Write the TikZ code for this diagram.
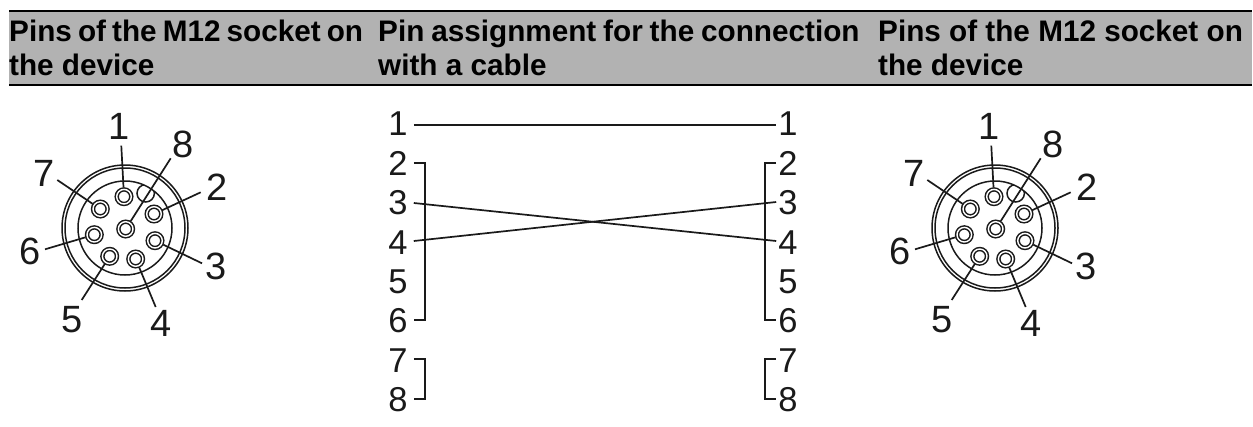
\documentclass[tikz,border=0pt]{standalone}
\usepackage{fontspec}
\setmainfont{Liberation Sans}
\usetikzlibrary{calc}
\definecolor{headgrey}{RGB}{178,178,178}
\definecolor{ink}{RGB}{26,26,26}
\tikzset{
  x=1pt,y=-1pt,
  wire/.style={draw=ink,line width=1.7pt},
  rule/.style={draw=black,line width=2.2pt},
  head/.style={anchor=base west,inner sep=0pt,align=left,font=\fontsize{29.7}{34}\selectfont\bfseries,text=black},
  biglabel/.style={inner sep=0pt,font=\fontsize{38}{38}\selectfont,text=ink},
  midlabel/.style={inner sep=0pt,font=\fontsize{34.5}{34.5}\selectfont,text=ink},
  pinnode/.style={circle,draw=ink,line width=1.5pt,double=white,double distance=1.4pt,minimum size=14.6pt,inner sep=0pt,outer sep=2pt},
  ring/.style={draw=ink,line width=1.5pt},
}
\newcommand{\socket}[2]{%
\begin{scope}[xshift=#1pt,name prefix=#2-]
  \draw[ring] (125,228) circle (63) (125,228) circle (60);
  \draw[ring] (125,228) circle (47);
  \begin{scope}
    \clip (125,228) circle (47);
    \draw[ring] (145.7,193.3) circle (8.7);
  \end{scope}
  \node[pinnode] (p1) at (124,196.7) {};
  \node[pinnode] (p2) at (154,214) {};
  \node[pinnode] (p3) at (155,240.7) {};
  \node[pinnode] (p4) at (135.7,259) {};
  \node[pinnode] (p5) at (109.7,256.3) {};
  \node[pinnode] (p6) at (94.3,234.7) {};
  \node[pinnode] (p7) at (100.3,209) {};
  \node[pinnode] (p8) at (125.7,229) {};
  \node[biglabel] (n1) at (119,126) {1};
  \node[biglabel] (n2) at (217,187) {2};
  \node[biglabel] (n3) at (216,266) {3};
  \node[biglabel] (n4) at (161,323) {4};
  \node[biglabel] (n5) at (72,320) {5};
  \node[biglabel] (n6) at (30,251.5) {6};
  \node[biglabel] (n7) at (44,173) {7};
  \node[biglabel] (n8) at (183,144) {8};
  \coordinate (e1) at (121.3,145.7);
  \coordinate (e2) at (200.7,192.3);
  \coordinate (e3) at (202,263.3);
  \coordinate (e4) at (155.7,307);
  \coordinate (e5) at (81.7,300);
  \coordinate (e6) at (45,249.3);
  \coordinate (e7) at (57.3,180);
  \coordinate (e8) at (170.7,158.3);
  \foreach \i in {1,...,8} \draw[wire] (e\i) -- (p\i);
\end{scope}}
\begin{document}
\begin{tikzpicture}
\useasboundingbox (0,0) rectangle (1253,426);
\fill[headgrey] (9,11) rectangle (1252,85);
\draw[rule] (9,11) -- (1252,11);
\draw[rule] (9,85) -- (1252,85);
\node[head] (h1) at (9,75) {\spaceskip=6.1pt Pins of the M12 socket on\\the device};
\node[head] (h2) at (378,75) {\spaceskip=6.9pt Pin assignment for the connection\\with a cable};
\node[head] (h3) at (878,75) {Pins of the M12 socket on\\the device};
\socket{0}{a}
\socket{870}{b}
\foreach \i/\y in {1/124,2/163,3/203,4/243,5/282,6/321,7/361,8/400}{
  \node[midlabel,minimum width=18pt] (l\i) at (398,\y) {\i};
  \node[midlabel,minimum width=18pt] (r\i) at (788,\y) {\i};
}
\draw[wire] ([xshift=6pt,yshift=-1pt]l1.east) -- ([xshift=-2pt,yshift=-1pt]r1.west);
\draw[wire] ([xshift=6pt]l3.east) -- ([xshift=-2pt,yshift=2pt]r4.west);
\draw[wire] ([xshift=6pt,yshift=2pt]l4.east) -- ([xshift=-2pt,yshift=1pt]r3.west);
\draw[wire] ([xshift=6pt]l2.east) -| ([xshift=17pt,yshift=1pt]l6.east) -- ([xshift=6pt,yshift=1pt]l6.east);
\draw[wire] ([xshift=-2pt]r2.west) -| ([xshift=-13pt,yshift=1pt]r6.west) -- ([xshift=-2pt,yshift=1pt]r6.west);
\draw[wire] ([xshift=6pt,yshift=2pt]l7.east) -| ([xshift=17pt,yshift=1pt]l8.east) -- ([xshift=6pt,yshift=1pt]l8.east);
\draw[wire] ([xshift=-2pt,yshift=2pt]r7.west) -| ([xshift=-13pt,yshift=1pt]r8.west) -- ([xshift=-2pt,yshift=1pt]r8.west);
\end{tikzpicture}
\end{document}
